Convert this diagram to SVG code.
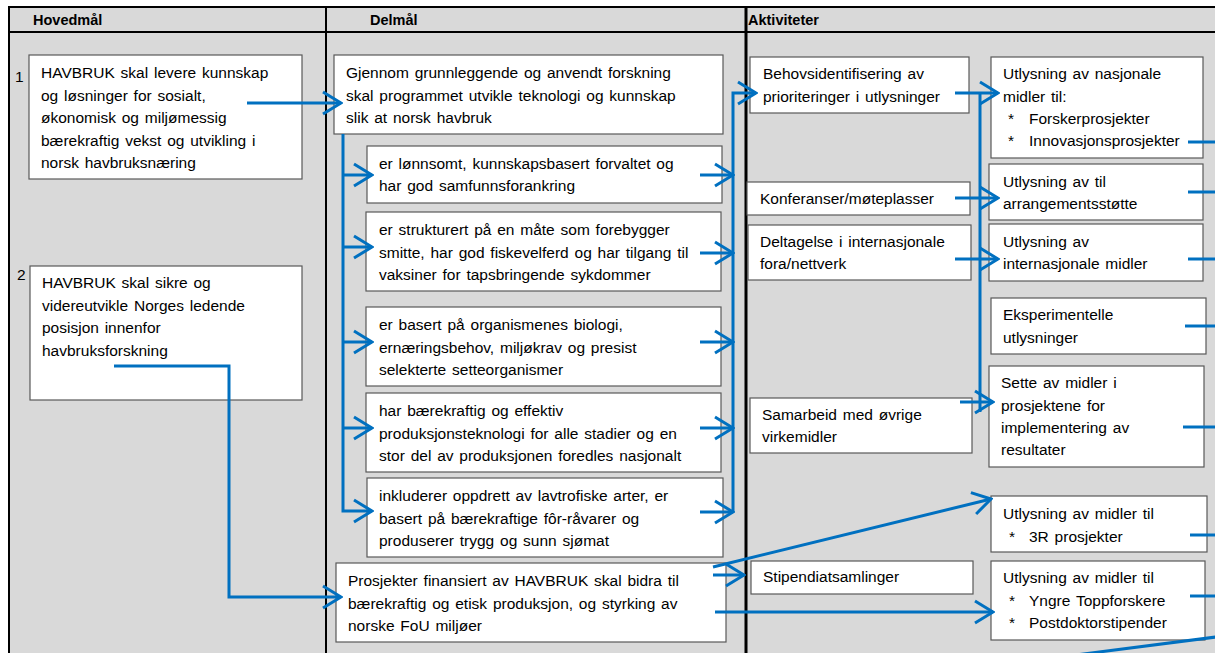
<svg xmlns="http://www.w3.org/2000/svg" width="1215" height="653" viewBox="0 0 1215 653">
<defs>
<marker id="ah" markerUnits="userSpaceOnUse" markerWidth="22" markerHeight="26" viewBox="0 0 22 26" refX="20" refY="13" orient="auto">
<path d="M2,2 L20,13 L2,24" fill="none" stroke="#0070C0" stroke-width="3"/>
</marker>
</defs>
<style>
.box{fill:#ffffff;stroke:#595959;stroke-width:1.2}
.t{font-family:"Liberation Sans",Arial,sans-serif;font-size:15.5px;word-spacing:1.5px;fill:#000}
.h{font-family:"Liberation Sans",Arial,sans-serif;font-size:14.5px;font-weight:bold;fill:#000}
.c{fill:none;stroke:#0070C0;stroke-width:3}
.a{fill:none;stroke:#0070C0;stroke-width:3;marker-end:url(#ah)}
.frame{stroke:#000;stroke-width:2}
</style>
<rect x="0" y="0" width="1215" height="653" fill="#ffffff"/>
<g id="frame">
<rect x="9" y="7" width="1206" height="646" fill="#d9d9d9"/>
<line class="frame" x1="8" y1="7" x2="1215" y2="7"/>
<line class="frame" x1="9" y1="32" x2="1215" y2="32"/>
<line class="frame" x1="9" y1="6" x2="9" y2="653"/>
<line class="frame" x1="326" y1="6" x2="326" y2="653"/>
<line x1="746" y1="6" x2="746" y2="653" stroke="#000" stroke-width="3"/>
<text class="h" x="33" y="25">Hovedmål</text>
<text class="h" x="370" y="25">Delmål</text>
<text class="h" x="748" y="25">Aktiviteter</text>
<text class="t" x="15" y="82">1</text>
<text class="t" x="17" y="280">2</text>
</g>
<g id="h1"><rect class="box" x="29" y="55" width="273" height="124"/>
<text class="t" x="41" y="78">HAVBRUK skal levere kunnskap</text>
<text class="t" x="41" y="100.5">og løsninger for sosialt,</text>
<text class="t" x="41" y="123">økonomisk og miljømessig</text>
<text class="t" x="41" y="145.5">bærekraftig vekst og utvikling i</text>
<text class="t" x="41" y="168">norsk havbruksnæring</text></g>
<g id="h2"><rect class="box" x="30" y="266" width="272" height="134"/>
<text class="t" x="42" y="288">HAVBRUK skal sikre og</text>
<text class="t" x="42" y="310.5">videreutvikle Norges ledende</text>
<text class="t" x="42" y="333">posisjon innenfor</text>
<text class="t" x="42" y="355.5">havbruksforskning</text></g>
<g id="d0"><rect class="box" x="334" y="55" width="389" height="79"/>
<text class="t" x="346" y="78">Gjennom grunnleggende og anvendt forskning</text>
<text class="t" x="346" y="100.5">skal programmet utvikle teknologi og kunnskap</text>
<text class="t" x="346" y="123">slik at norsk havbruk</text></g>
<g id="d1"><rect class="box" x="367" y="146" width="355" height="57"/>
<text class="t" x="379" y="168.5">er lønnsomt, kunnskapsbasert forvaltet og</text>
<text class="t" x="379" y="191">har god samfunnsforankring</text></g>
<g id="d2"><rect class="box" x="366" y="212" width="355" height="79"/>
<text class="t" x="379" y="235">er strukturert på en måte som forebygger</text>
<text class="t" x="379" y="257.5">smitte, har god fiskevelferd og har tilgang til</text>
<text class="t" x="379" y="280">vaksiner for tapsbringende sykdommer</text></g>
<g id="d3"><rect class="box" x="366" y="307" width="355" height="79"/>
<text class="t" x="379" y="330">er basert på organismenes biologi,</text>
<text class="t" x="379" y="352.5">ernæringsbehov, miljøkrav og presist</text>
<text class="t" x="379" y="375">selekterte setteorganismer</text></g>
<g id="d4"><rect class="box" x="366" y="393" width="355" height="79"/>
<text class="t" x="379" y="416">har bærekraftig og effektiv</text>
<text class="t" x="379" y="438.5">produksjonsteknologi for alle stadier og en</text>
<text class="t" x="379" y="461">stor del av produksjonen foredles nasjonalt</text></g>
<g id="d5"><rect class="box" x="367" y="478" width="356" height="79"/>
<text class="t" x="379" y="501">inkluderer oppdrett av lavtrofiske arter, er</text>
<text class="t" x="379" y="523.5">basert på bærekraftige fôr-råvarer og</text>
<text class="t" x="379" y="546">produserer trygg og sunn sjømat</text></g>
<g id="d6"><rect class="box" x="336" y="563" width="390" height="79"/>
<text class="t" x="348" y="586">Prosjekter finansiert av HAVBRUK skal bidra til</text>
<text class="t" x="348" y="608.5">bærekraftig og etisk produksjon, og styrking av</text>
<text class="t" x="348" y="631">norske FoU miljøer</text></g>
<g id="a1"><rect class="box" x="750" y="57" width="219" height="56"/>
<text class="t" x="763" y="79">Behovsidentifisering av</text>
<text class="t" x="763" y="102">prioriteringer i utlysninger</text></g>
<g id="a2"><rect class="box" x="747" y="182" width="223" height="33"/>
<text class="t" x="760" y="204">Konferanser/møteplasser</text></g>
<g id="a3"><rect class="box" x="748" y="225" width="223" height="55"/>
<text class="t" x="760" y="247">Deltagelse i internasjonale</text>
<text class="t" x="760" y="269">fora/nettverk</text></g>
<g id="a4"><rect class="box" x="750" y="398" width="222" height="55"/>
<text class="t" x="762" y="420">Samarbeid med øvrige</text>
<text class="t" x="762" y="442">virkemidler</text></g>
<g id="a5"><rect class="box" x="751" y="561" width="222" height="33"/>
<text class="t" x="763" y="582">Stipendiatsamlinger</text></g>
<g id="b1"><rect class="box" x="991" y="57" width="212" height="101"/>
<text class="t" x="1003" y="79">Utlysning av nasjonale</text>
<text class="t" x="1003" y="102">midler til:</text>
<text class="t" x="1008" y="124">*</text><text class="t" x="1029" y="124">Forskerprosjekter</text>
<text class="t" x="1008" y="146">*</text><text class="t" x="1029" y="146">Innovasjonsprosjekter</text></g>
<g id="b2"><rect class="box" x="989" y="164" width="214" height="56"/>
<text class="t" x="1003" y="187">Utlysning av til</text>
<text class="t" x="1003" y="209">arrangementsstøtte</text></g>
<g id="b3"><rect class="box" x="989" y="224" width="214" height="57"/>
<text class="t" x="1003" y="247">Utlysning av</text>
<text class="t" x="1003" y="269">internasjonale midler</text></g>
<g id="b4"><rect class="box" x="991" y="298" width="215" height="56"/>
<text class="t" x="1003" y="320">Eksperimentelle</text>
<text class="t" x="1003" y="343">utlysninger</text></g>
<g id="b5"><rect class="box" x="989" y="366" width="215" height="101"/>
<text class="t" x="1001" y="388">Sette av midler i</text>
<text class="t" x="1001" y="411">prosjektene for</text>
<text class="t" x="1001" y="433">implementering av</text>
<text class="t" x="1001" y="455">resultater</text></g>
<g id="b6"><rect class="box" x="991" y="496" width="216" height="56"/>
<text class="t" x="1003" y="519">Utlysning av midler til</text>
<text class="t" x="1009" y="542">*</text><text class="t" x="1029" y="542">3R prosjekter</text></g>
<g id="b7"><rect class="box" x="991" y="561" width="214" height="79"/>
<text class="t" x="1003" y="583">Utlysning av midler til</text>
<text class="t" x="1009" y="606">*</text><text class="t" x="1029" y="606">Yngre Toppforskere</text>
<text class="t" x="1009" y="628">*</text><text class="t" x="1029" y="628">Postdoktorstipender</text></g>
<g id="connectors">
<line class="a" x1="247" y1="103" x2="341" y2="103"/>
<polyline class="a" points="114,366 229,366 229,597 341,597"/>
<polyline class="a" points="343,134 343,511 372,511"/>
<line class="a" x1="343" y1="175" x2="372" y2="175"/>
<line class="a" x1="343" y1="247" x2="372" y2="247"/>
<line class="a" x1="343" y1="342" x2="372" y2="342"/>
<line class="a" x1="343" y1="428" x2="372" y2="428"/>
<polyline class="a" points="733,512 733,93 756,93"/>
<line class="a" x1="700" y1="175" x2="733" y2="175"/>
<line class="a" x1="700" y1="253" x2="733" y2="253"/>
<line class="a" x1="700" y1="342" x2="733" y2="342"/>
<line class="a" x1="700" y1="428" x2="733" y2="428"/>
<line class="a" x1="700" y1="512" x2="733" y2="512"/>
<line class="c" x1="980" y1="93" x2="980" y2="412"/>
<line class="a" x1="955" y1="93" x2="998" y2="93"/>
<line class="a" x1="955" y1="198" x2="998" y2="198"/>
<line class="a" x1="955" y1="259" x2="998" y2="259"/>
<line class="a" x1="960" y1="402" x2="993" y2="402"/>
<line class="a" x1="713" y1="567" x2="991" y2="499"/>
<line class="a" x1="713" y1="575" x2="744" y2="575"/>
<line class="a" x1="715" y1="612" x2="993" y2="612"/>
<line class="c" x1="1188" y1="142" x2="1215" y2="142"/>
<line class="c" x1="1188" y1="192" x2="1215" y2="192"/>
<line class="c" x1="1188" y1="259" x2="1215" y2="259"/>
<line class="c" x1="1185" y1="326" x2="1215" y2="326"/>
<line class="c" x1="1183" y1="427" x2="1215" y2="427"/>
<line class="c" x1="1190" y1="535" x2="1215" y2="535"/>
<line class="c" x1="1190" y1="596" x2="1215" y2="596"/>
<line class="c" x1="1216" y1="637" x2="1068" y2="656"/>
</g>
</svg>
